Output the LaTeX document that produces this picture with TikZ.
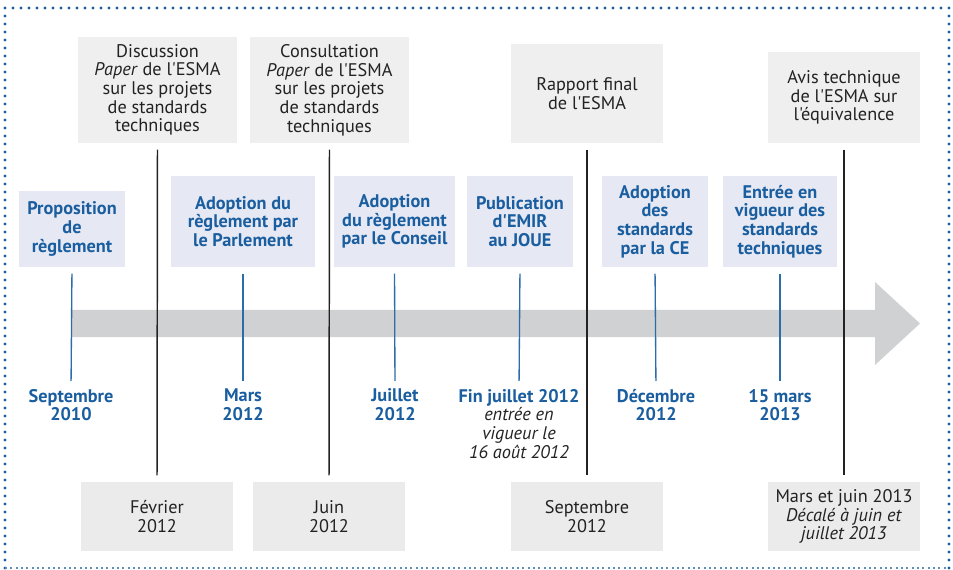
\documentclass[tikz,border=0pt]{standalone}
\usepackage{fontspec}
\setmainfont{PT Sans}[Ligatures=TeXOff]
\definecolor{esmablue}{HTML}{1A5E9F}
\definecolor{tickblue}{HTML}{2C6CA9}
\definecolor{eventfill}{HTML}{E6E9F4}
\definecolor{notefill}{HTML}{EFEFEF}
\definecolor{datefill}{HTML}{EBEBEB}
\definecolor{arrowgray}{HTML}{D0D1D3}
\definecolor{ink}{HTML}{222222}

\begin{document}
\begin{tikzpicture}[x=0.75pt,y=-0.75pt,
	every node/.style={font=\fontsize{13.7pt}{14pt}\selectfont,align=center,inner sep=0,outer sep=0},
	notebox/.style={fill=notefill,text=ink,minimum width=114pt},
	datebox/.style={fill=datefill,text=ink,minimum width=114pt,minimum height=51.75pt},
	eventbox/.style={fill=eventfill,text=esmablue,font=\fontsize{13.7pt}{14pt}\selectfont\bfseries,minimum height=68.25pt},
	datelabel/.style={text=esmablue,font=\fontsize{13.7pt}{14pt}\selectfont\bfseries,anchor=north},
	tick/.style={draw=tickblue,line width=1pt,shorten <=5pt,shorten >=6pt},
	milestone/.style={draw=ink,line width=1.1pt,shorten <=5pt,shorten >=5pt}]
	\useasboundingbox (0,0) rectangle (953,570);
	% frame
	\draw[esmablue,line width=2.4pt,line cap=round,dash pattern=on 0pt off 6pt] (949,568) -- (949,8) -- (5,8) -- (5,568);
	\draw[esmablue!70,line width=0.8pt,dash pattern=on 1.5pt off 2.5pt] (5,568) -- (949,568);
	% time axis
	\fill[arrowgray] (71,310) -- (875,310) -- (875,282) -- (920,323.5) -- (875,365) -- (875,337) -- (71,337) -- cycle;
	% ESMA steps above and below the axis
	\node[notebox,minimum width=119.25pt,minimum height=79.5pt] (disc) at (157.5,90) {Discussion\\\textit{Paper} de l'ESMA\\sur les projets\\de standards\\techniques};
	\node[notebox,minimum width=119.25pt,minimum height=79.5pt] (consult) at (329.5,90) {Consultation\\\textit{Paper} de l'ESMA\\sur les projets\\de standards\\techniques};
	\node[notebox,minimum height=74.25pt] (rapport) at (587,93.5) {Rapport final\\de l'ESMA};
	\node[notebox,minimum height=68.25pt] (avis) at (844,97.5) {Avis technique\\de l'ESMA sur\\l'équivalence};
	\node[datebox] (fev) at (157,516.5) {Février\\2012};
	\node[datebox] (juin) at (329,516.5) {Juin\\2012};
	\node[datebox] (sept) at (587,516.5) {Septembre\\2012};
	\node[datebox] (mars13) at (844,516.5) {Mars et juin 2013\\\textit{Décalé à juin et}\\\textit{juillet 2013}};
	\draw[milestone] (disc.south) -- (fev.north);
	\draw[milestone] (consult.south) -- (juin.north);
	\draw[milestone] (rapport.south) -- (sept.north);
	\draw[milestone] (avis.south) -- (mars13.north);
	% legislative steps
	\node[eventbox,minimum width=79.5pt,minimum height=57pt] (prop) at (72,229) {Proposition\\de\\règlement};
	\node[eventbox,minimum width=108pt] (parl) at (243,221.5) {Adoption du\\règlement par\\le Parlement};
	\node[eventbox,minimum width=90.75pt] (conseil) at (394.5,221.5) {Adoption\\du règlement\\par le Conseil};
	\node[eventbox,minimum width=79.5pt] (publ) at (520,221.5) {Publication\\d'EMIR\\au JOUE};
	\node[eventbox,minimum width=79.5pt] (stdce) at (655,221.5) {Adoption\\des\\standards\\par la CE};
	\node[eventbox,minimum width=85.5pt] (vigueur) at (780,221.5) {Entrée en\\vigueur des\\standards\\techniques};
	\node[datelabel] (sep10) at (71,389) {Septembre\\2010};
	\node[datelabel] (mar12) at (243,389) {Mars\\2012};
	\node[datelabel] (jul12) at (395,389) {Juillet\\2012};
	\node[datelabel] (finjul) at (519,389) {Fin juillet 2012\\{\normalfont\itshape\color{ink}entrée en}\\{\normalfont\itshape\color{ink}vigueur le}\\{\normalfont\itshape\color{ink}16 août 2012}};
	\node[datelabel] (dec12) at (656,389) {Décembre\\2012};
	\node[datelabel] (mar13) at (780,389) {15 mars\\2013};
	\draw[tick] (prop.south) -- (sep10.north);
	\draw[tick] (parl.south) -- (mar12.north);
	\draw[tick] (conseil.south) -- (jul12.north);
	\draw[tick] (publ.south) -- (finjul.north);
	\draw[tick] (stdce.south) -- (dec12.north);
	\draw[tick] (vigueur.south) -- (mar13.north);
\end{tikzpicture}
\end{document}
